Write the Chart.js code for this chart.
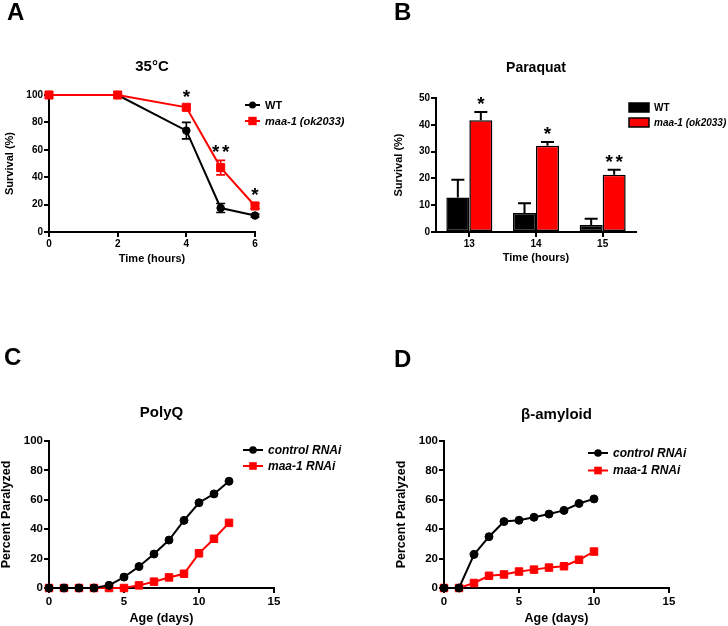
<!DOCTYPE html>
<html>
<head>
<meta charset="utf-8">
<script src="https://cdn.jsdelivr.net/npm/chart.js@4.4.0/dist/chart.umd.min.js"></script>
<style>
  body { margin: 0; background: #fff; }
  #page { position: relative; width: 728px; height: 626px; overflow: hidden; background: #fff; }
  canvas { position: absolute; }
  .letter { position: absolute; font: bold 24px/24px "Liberation Sans", Arial, sans-serif; color: #000; }
</style>
</head>
<body>
<div id="page">
  <canvas id="chartA" width="364" height="300" style="left:0;top:0"></canvas>
  <canvas id="chartB" width="364" height="300" style="left:364px;top:0"></canvas>
  <canvas id="chartC" width="364" height="326" style="left:0;top:300px"></canvas>
  <canvas id="chartD" width="364" height="326" style="left:364px;top:300px"></canvas>
  <div class="letter" style="left:7px;top:0px">A</div>
  <div class="letter" style="left:394px;top:0px">B</div>
  <div class="letter" style="left:4px;top:345px">C</div>
  <div class="letter" style="left:394px;top:347px">D</div>
</div>
<script>
// A: survival at 35°C
const heatHours = [0, 2, 4, 5, 6];
const heatWT = [100, 100, 74, 17.5, 12];
const heatWTErr = [0, 0, 6, 3.3, 1];
const heatMaa = [100, 100, 91, 47, 19];
const heatMaaErr = [0, 0, 1.5, 5.3, 2];
const heatStars = ['', '', '*', '**', '*'];

// B: paraquat survival
const paraquatHours = ['13', '14', '15'];
const paraquatWT = [12.9, 7.1, 2.6];
const paraquatWTErr = [6.6, 3.6, 2.3];
const paraquatMaa = [41.7, 32.2, 21.4];
const paraquatMaaErr = [3.1, 1.4, 1.8];
const paraquatStars = ['*', '*', '**'];

// C: PolyQ paralysis
const polyqDays = [0, 1, 2, 3, 4, 5, 6, 7, 8, 9, 10, 11, 12];
const polyqControl = [0, 0, 0, 0, 1.8, 7.4, 14.6, 23.1, 32.6, 46, 58, 64, 72.6];
const polyqMaa = [0, 0, 0, 0, 0, 0, 1.8, 4.3, 7.2, 9.7, 23.6, 33.5, 44.3];

// D: beta-amyloid paralysis
const amyloidDays = [0, 1, 2, 3, 4, 5, 6, 7, 8, 9, 10];
const amyloidControl = [0, 0, 22.8, 34.9, 45.2, 46.1, 48.1, 50.3, 52.8, 57.5, 60.6];
const amyloidMaa = [0, 0, 3.4, 8.3, 9.2, 11.2, 12.5, 13.9, 14.8, 19.2, 24.8];

const FONT = '"Liberation Sans", Arial, sans-serif';
Chart.defaults.font.family = FONT;
Chart.defaults.font.weight = 'bold';
Chart.defaults.color = '#000';
Chart.defaults.animation = false;
Chart.defaults.responsive = false;
Chart.defaults.plugins.legend.display = false;
Chart.defaults.plugins.tooltip.enabled = false;

const fixY = w => s => { s.width = w; s.paddingTop = 0; s.paddingBottom = 0; };
const fixX = h => s => { s.height = h; s.paddingLeft = 0; s.paddingRight = 0; };

function axis(o) {
  return {
    type: o.type || 'linear',
    min: o.min, max: o.max,
    offset: !!o.offset,
    ticks: { stepSize: o.step, padding: o.tickPad, font: { size: o.tickSize } },
    grid: { drawOnChartArea: false, color: '#000', lineWidth: 2, tickLength: 5, offset: false },
    border: { color: '#000', width: 2 },
    title: { display: true, text: o.title, font: { size: o.titleSize, lineHeight: 1 }, padding: o.titlePad },
    afterFit: o.fit
  };
}

const xy = (xs, ys) => xs.map((x, i) => ({ x: x, y: ys[i] }));

function marker(ctx, kind, x, y, r) {
  ctx.beginPath();
  if (kind === 'rect') ctx.rect(x - r, y - r, 2 * r, 2 * r);
  else ctx.arc(x, y, r, 0, Math.PI * 2);
  ctx.fill();
}

// error bars, significance stars and legend
const extras = {
  id: 'extras',
  afterDatasetsDraw(chart, args, o) {
    const ctx = chart.ctx;
    const yScale = chart.scales.y;
    ctx.save();
    (o.errors || []).forEach((errs, di) => {
      const meta = chart.getDatasetMeta(di);
      const vals = chart.data.datasets[di].data;
      ctx.strokeStyle = o.errColors[di];
      ctx.lineWidth = o.errWidth;
      errs.forEach((e, j) => {
        if (!e) return;
        const v = typeof vals[j] === 'object' ? vals[j].y : vals[j];
        const x = meta.data[j].x;
        const top = yScale.getPixelForValue(v + e);
        const bot = o.both ? yScale.getPixelForValue(v - e) : yScale.getPixelForValue(v);
        ctx.beginPath();
        ctx.moveTo(x, top); ctx.lineTo(x, bot);
        ctx.moveTo(x - o.cap / 2, top); ctx.lineTo(x + o.cap / 2, top);
        if (o.both) { ctx.moveTo(x - o.cap / 2, bot); ctx.lineTo(x + o.cap / 2, bot); }
        ctx.stroke();
      });
    });
    if (o.stars) {
      const di = o.starSet;
      const meta = chart.getDatasetMeta(di);
      const vals = chart.data.datasets[di].data;
      ctx.fillStyle = '#000';
      ctx.font = 'bold 19px ' + FONT;
      ctx.textAlign = 'center';
      ctx.textBaseline = 'alphabetic';
      o.stars.forEach((s, j) => {
        if (!s) return;
        const v = typeof vals[j] === 'object' ? vals[j].y : vals[j];
        const x = meta.data[j].x;
        const cy = yScale.getPixelForValue(v + o.errors[di][j]) - 13;
        const base = cy + 11;
        if (s.length === 1) ctx.fillText('*', x, base);
        else { ctx.fillText('*', x - 5, base); ctx.fillText('*', x + 5, base); }
      });
    }
    ctx.restore();
  },
  afterDraw(chart, args, o) {
    const lg = o.legend;
    if (!lg) return;
    const ctx = chart.ctx;
    ctx.save();
    lg.items.forEach((it, k) => {
      const y = lg.y + k * lg.gap;
      if (it.marker === 'box') {
        ctx.fillStyle = it.color;
        ctx.fillRect(lg.x, y - 4.5, lg.len, 9);
        ctx.strokeStyle = '#000';
        ctx.lineWidth = 1.5;
        ctx.strokeRect(lg.x, y - 4.5, lg.len, 9);
      } else {
        ctx.strokeStyle = it.color;
        ctx.fillStyle = it.color;
        ctx.lineWidth = 2;
        ctx.beginPath();
        ctx.moveTo(lg.x, y); ctx.lineTo(lg.x + lg.len, y);
        ctx.stroke();
        marker(ctx, it.marker, lg.x + lg.len / 2, y, it.r);
      }
      ctx.fillStyle = '#000';
      ctx.font = (it.italic ? 'italic ' : '') + 'bold ' + lg.size + 'px ' + FONT;
      ctx.textAlign = 'left';
      ctx.textBaseline = 'middle';
      ctx.fillText(it.text, lg.textX, y + 0.5);
    });
    ctx.restore();
  }
};

// ---- A ----
new Chart(document.getElementById('chartA'), {
  type: 'line',
  data: {
    datasets: [
      { label: 'WT', data: xy(heatHours, heatWT), borderColor: '#000', backgroundColor: '#000',
        borderWidth: 2, pointStyle: 'circle', pointRadius: 3.8, pointBorderWidth: 1, order: 1, clip: false },
      { label: 'maa-1 (ok2033)', data: xy(heatHours, heatMaa), borderColor: '#f00', backgroundColor: '#f00',
        borderWidth: 2, pointStyle: 'rect', pointRadius: 5.7, pointBorderWidth: 1, order: 0, clip: false }
    ]
  },
  options: {
    layout: { padding: { left: 0, right: 109, top: 0, bottom: 0 } },
    scales: {
      x: axis({ min: 0, max: 6, step: 2, tickSize: 10, tickPad: 1.5, title: 'Time (hours)', titleSize: 11,
                titlePad: { top: 4, bottom: 35.5 }, fit: fixX(68) }),
      y: axis({ min: 0, max: 100, step: 20, tickSize: 10, tickPad: 1, title: 'Survival (%)', titleSize: 11,
                titlePad: { top: 4.5, bottom: 4 }, fit: fixY(49) })
    },
    plugins: {
      title: { display: true, text: '35°C', font: { size: 15, lineHeight: 1.2 }, padding: { top: 58, bottom: 19 }, fullSize: false },
      extras: {
        errors: [heatWTErr, heatMaaErr], errColors: ['#000', '#f00'], errWidth: 1.6, cap: 9, both: true,
        stars: heatStars, starSet: 1,
        legend: { x: 245, len: 15, y: 105, gap: 16, textX: 265, size: 11, items: [
          { text: 'WT', italic: false, color: '#000', marker: 'circle', r: 3.5 },
          { text: 'maa-1 (ok2033)', italic: true, color: '#f00', marker: 'rect', r: 4.2 }
        ] }
      }
    }
  },
  plugins: [extras]
});

// ---- B ----
new Chart(document.getElementById('chartB'), {
  type: 'bar',
  data: {
    labels: paraquatHours,
    datasets: [
      { label: 'WT', data: paraquatWT, backgroundColor: '#000', borderColor: '#000', borderWidth: 1.5,
        borderSkipped: false, categoryPercentage: 0.69, barPercentage: 1 },
      { label: 'maa-1 (ok2033)', data: paraquatMaa, backgroundColor: '#f00', borderColor: '#000', borderWidth: 1.5,
        borderSkipped: false, categoryPercentage: 0.69, barPercentage: 1 }
    ]
  },
  options: {
    layout: { padding: { left: 0, right: 92, top: 0, bottom: 0 } },
    scales: {
      x: axis({ type: 'category', offset: true, tickSize: 10, tickPad: 1.5, title: 'Time (hours)', titleSize: 11,
                titlePad: { top: 4, bottom: 37 }, fit: fixX(68) }),
      y: axis({ min: 0, max: 50, step: 10, tickSize: 10, tickPad: 1, title: 'Survival (%)', titleSize: 11,
                titlePad: { top: 29.5, bottom: 4 }, fit: fixY(72) })
    },
    plugins: {
      title: { display: true, text: 'Paraquat', font: { size: 14, lineHeight: 1.2 }, padding: { top: 60, bottom: 21.2 }, fullSize: false },
      extras: {
        errors: [paraquatWTErr, paraquatMaaErr], errColors: ['#000', '#000'], errWidth: 2, cap: 13, both: false,
        stars: paraquatStars, starSet: 1,
        legend: { x: 265, len: 20, y: 107.5, gap: 15, textX: 290, size: 10, items: [
          { text: 'WT', italic: false, color: '#000', marker: 'box' },
          { text: 'maa-1 (ok2033)', italic: true, color: '#f00', marker: 'box' }
        ] }
      }
    }
  },
  plugins: [extras]
});

// ---- C and D ----
function paralysisChart(id, days, control, maa, opt) {
  return new Chart(document.getElementById(id), {
    type: 'line',
    data: {
      datasets: [
        { label: 'control RNAi', data: xy(days, control), borderColor: '#000', backgroundColor: '#000',
          borderWidth: 2, pointStyle: 'circle', pointRadius: 4, pointBorderWidth: 1, clip: false },
        { label: 'maa-1 RNAi', data: xy(days, maa), borderColor: '#f00', backgroundColor: '#f00',
          borderWidth: 2, pointStyle: 'rect', pointRadius: 5.3, pointBorderWidth: 1, clip: false }
      ]
    },
    options: {
      layout: { padding: { left: 0, right: opt.right, top: 0, bottom: 0 } },
      scales: {
        x: axis({ min: 0, max: 15, step: 5, tickSize: 11.5, tickPad: 2.4, title: 'Age (days)', titleSize: 12.5,
                  titlePad: { top: 4, bottom: 1.5 }, fit: fixX(38) }),
        y: axis({ min: 0, max: 100, step: 20, tickSize: 11.5, tickPad: 1, title: 'Percent Paralyzed', titleSize: 12.5,
                  titlePad: { top: opt.yTitlePad, bottom: 4 }, fit: fixY(opt.left) })
      },
      plugins: {
        title: { display: true, text: opt.title, font: { size: 15, lineHeight: 1.2 }, padding: opt.titlePad, fullSize: false },
        extras: {
          legend: { x: opt.legX, len: 20, y: opt.legY, gap: opt.legGap, textX: opt.legX + 25, size: 12, items: [
            { text: 'control RNAi', italic: true, color: '#000', marker: 'circle', r: 3.8 },
            { text: 'maa-1 RNAi', italic: true, color: '#f00', marker: 'rect', r: 3.8 }
          ] }
        }
      }
    },
    plugins: [extras]
  });
}

paralysisChart('chartC', polyqDays, polyqControl, polyqMaa, {
  title: 'PolyQ', left: 49, right: 90, yTitlePad: 0, titlePad: { top: 104.3, bottom: 18.7 },
  legX: 243, legY: 150, legGap: 16
});
paralysisChart('chartD', amyloidDays, amyloidControl, amyloidMaa, {
  title: 'β-amyloid', left: 80, right: 59, yTitlePad: 31.75, titlePad: { top: 106, bottom: 17 },
  legX: 224, legY: 153, legGap: 17.5
});
</script>
</body>
</html>
